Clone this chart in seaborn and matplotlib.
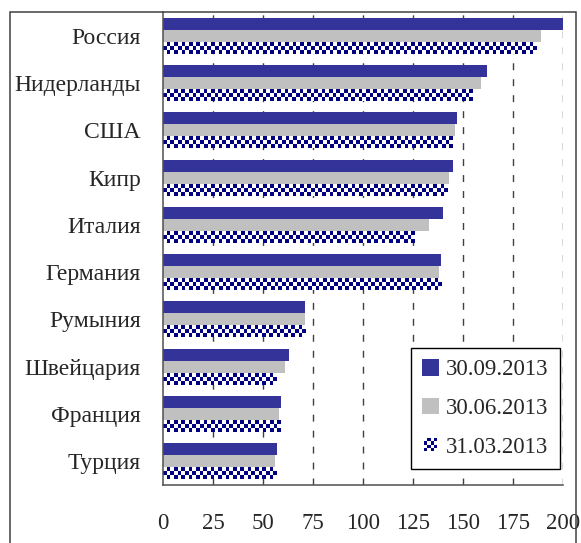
import numpy as np
import pandas as pd
import matplotlib
matplotlib.use("Agg")
import matplotlib.pyplot as plt
import seaborn as sns
from matplotlib.patches import Patch, Rectangle
from matplotlib.colors import ListedColormap
from matplotlib.legend_handler import HandlerBase

# ——— Data ———
countries = ["Россия", "Нидерланды", "США", "Кипр", "Италия",
             "Германия", "Румыния", "Швейцария", "Франция", "Турция"]
dates = ["30.09.2013", "30.06.2013", "31.03.2013"]
q3_values = [201, 162, 147, 145, 140, 139, 71, 63.2, 59.2, 57.2]
q2_values = [189, 159, 146, 143.2, 133, 138, 71, 61.2, 58.2, 56.2]
q1_values = [187, 155, 144.8, 142.2, 126, 139.5, 71.5, 56.7, 58.7, 56.7]
x_ticks = [0, 25, 50, 75, 100, 125, 150, 175, 200]

# ——— Style ———
blue = "#333399"
gray = "#C0C0C0"
navy = "#000080"
line_col = "#505050"
font_size = 16.5
cat_font_size = 17

sns.set_style("white")
plt.rcParams["font.family"] = ["Liberation Serif", "DejaVu Serif"]
plt.rcParams["font.size"] = font_size

df = pd.DataFrame({
    "country": countries * 3,
    "date": [dates[0]] * 10 + [dates[1]] * 10 + [dates[2]] * 10,
    "value": q3_values + q2_values + q1_values,
})

fig = plt.figure(figsize=(5.81, 5.43), dpi=100)
ax = fig.add_axes([163 / 581, 1 - 485 / 543, 400 / 581, 473 / 543])

sns.barplot(data=df, y="country", x="value", hue="date", orient="h",
            order=countries, hue_order=dates,
            palette=[blue, gray, "white"], saturation=1,
            width=0.76, dodge=True, errorbar=None, legend=False,
            linewidth=0, ax=ax, zorder=3)

ax.set_xlim(0, 200)
ax.set_ylim(9.5, -0.5)
ax.set_xlabel("")
ax.set_ylabel("")

# grid lines (dashed, behind bars)
for xv in x_ticks[1:]:
    ax.axvline(xv, color="#404040", lw=1.0, dashes=(5, 6.5), zorder=1)

# spines
for s in ["top", "right"]:
    ax.spines[s].set_visible(False)
for s in ["left", "bottom"]:
    ax.spines[s].set_color(line_col)
    ax.spines[s].set_linewidth(1.1)
    ax.spines[s].set_zorder(4)

ax.set_xticks(x_ticks)
ax.set_xticklabels([str(v) for v in x_ticks])
ax.tick_params(axis="x", direction="out", length=5, width=1.1,
               color=line_col, pad=15, labelsize=font_size)
ax.set_yticks(range(len(countries)))
ax.set_yticklabels(countries)
ax.set_yticks(np.arange(-0.5, len(countries)), minor=True)
ax.tick_params(axis="y", which="major", length=0, pad=16,
               labelsize=cat_font_size)
ax.tick_params(axis="y", which="minor", direction="out", length=5.8,
               width=1.1, color=line_col)

# checker fill for the 31.03.2013 bars
fig.canvas.draw()
px_per_x = ax.transData.transform((1, 0))[0] - ax.transData.transform((0, 0))[0]
cell_px = 3.7
cmap = ListedColormap(["white", navy])
for patch in ax.containers[2]:
    x0, y0 = patch.get_x(), patch.get_y()
    w, h = patch.get_width(), patch.get_height()
    ncols = max(1, int(round(w * px_per_x / cell_px)))
    nrows = 3
    arr = (np.add.outer(np.arange(nrows), np.arange(ncols)) % 2).astype(float)
    im = ax.imshow(arr, extent=[x0, x0 + w, y0 + h, y0], cmap=cmap,
                   vmin=0, vmax=1, interpolation="nearest",
                   aspect="auto", zorder=3.5)
    im.set_clip_path(patch)

ax.set_xlim(0, 200)
ax.set_ylim(9.5, -0.5)
ax.set_aspect("auto")


# ——— Legend ———
class CheckerHandler(HandlerBase):
    def create_artists(self, legend, orig_handle, xdescent, ydescent,
                       width, height, fontsize, trans):
        side = min(width, height) * 0.78
        cx = -xdescent + width / 2
        cy = -ydescent + height / 2
        n = 4
        c = side / n
        arts = [Rectangle((cx - side / 2, cy - side / 2), side, side,
                          facecolor="white", edgecolor="none",
                          transform=trans)]
        for i in range(n):
            for j in range(n):
                if (i + j) % 2 == 0:
                    arts.append(Rectangle((cx - side / 2 + j * c,
                                           cy - side / 2 + i * c), c, c,
                                          facecolor=navy, edgecolor="none",
                                          transform=trans))
        return arts


h1 = Patch(facecolor=blue, edgecolor="none", label=dates[0])
h2 = Patch(facecolor=gray, edgecolor="none", label=dates[1])
h3 = Patch(facecolor="white", edgecolor="none", label=dates[2])
leg = ax.legend(handles=[h1, h2, h3], labels=dates,
                loc="lower right", bbox_to_anchor=(0.9925, 0.0338),
                borderaxespad=0, frameon=True, fancybox=False,
                framealpha=1, edgecolor="black", fontsize=font_size,
                handlelength=0.75, handleheight=0.75, handletextpad=0.3,
                labelspacing=0.75, borderpad=0.5,
                handler_map={h3: CheckerHandler()})
leg.get_frame().set_linewidth(1.0)
leg.set_zorder(10)

# outer chart frame
fig.patches.append(Rectangle((10 / 581, -0.1), 566 / 581, 1 - 12 / 543 + 0.1,
                             transform=fig.transFigure, fill=False,
                             edgecolor="#404040", lw=1.1, clip_on=False))

fig.savefig("out.png", dpi=100)
